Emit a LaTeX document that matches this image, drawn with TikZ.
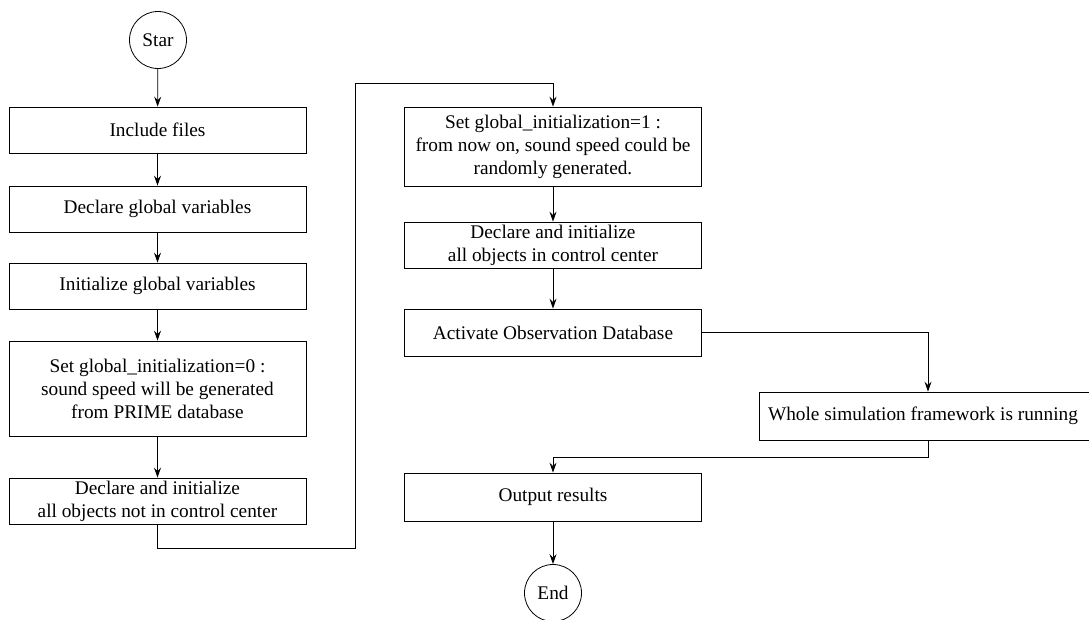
\documentclass[tikz,border=0pt]{standalone}
\usepackage{fontspec}
\setmainfont{Liberation Serif}
\usetikzlibrary{arrows.meta}
\begin{document}
\begin{tikzpicture}[x=1pt,y=1pt,
  every node/.style={font=\fontsize{19.3}{23}\selectfont},
  proc/.style={draw, line width=0.8pt, minimum width=297pt, align=center, inner sep=0pt},
  term/.style={draw, circle, line width=0.8pt, minimum size=57pt, inner sep=0pt},
  flow/.style={line width=0.8pt, -{Stealth[length=10pt,width=7pt,inset=3.5pt]}},
  link/.style={line width=0.8pt}]
\useasboundingbox (0,0) rectangle (1089,-620);
\node[term] (star) at (158,-40) {Star};
\node[proc, minimum height=46pt] (inc) at (157.5,-130) {Include files};
\node[proc, minimum height=46pt] (decl) at (157.5,-209) {Declare global variables};
\node[proc, minimum height=46pt] (init) at (157.5,-286) {Initialize global variables};
\node[proc, minimum height=95pt] (set0) at (157.5,-388.5) {Set global\_initialization=0 :\\ sound speed will be generated\\ from PRIME database};
\node[proc, minimum height=46pt] (declnot) at (157.5,-501) {Declare and initialize\\ all objects not in control center};
\node[proc, minimum height=79pt] (set1) at (553,-146.5) {Set global\_initialization=1 :\\ from now on, sound speed could be\\ randomly generated.};
\node[proc, minimum height=46pt] (declin) at (553,-245) {Declare and initialize\\ all objects in control center};
\node[proc, minimum height=47pt] (act) at (553,-332.5) {Activate Observation Database};
\node[proc, minimum height=48pt, minimum width=338pt] (whole) at (928,-416) {\hspace*{-10pt}Whole simulation framework is running};
\node[proc, minimum height=48pt] (out) at (553,-497) {Output results};
\node[term] (end) at (553,-593) {End};
\coordinate (c1) at (157.5,-548);
\coordinate (c2) at (355,-548);
\coordinate (c3) at (355,-83);
\coordinate (c4) at (553,-83);
\coordinate (c5) at (928,-457);
\coordinate (c6) at (553,-457);
\draw[flow] (star) -- (inc);
\draw[flow] (inc) -- (decl);
\draw[flow] (decl) -- (init);
\draw[flow] (init) -- (set0);
\draw[flow] (set0) -- (declnot);
\draw[flow] (declnot.south) -- (c1) -- (c2) -- (c3) -- (c4) -- (set1.north);
\draw[flow] (set1) -- (declin);
\draw[flow] (declin) -- (act);
\draw[flow] (act.east) -| (whole.north);
\draw[flow] (whole.south) -- (c5) -- (c6) -- (out.north);
\draw[flow] (out) -- (end);
\end{tikzpicture}
\end{document}
